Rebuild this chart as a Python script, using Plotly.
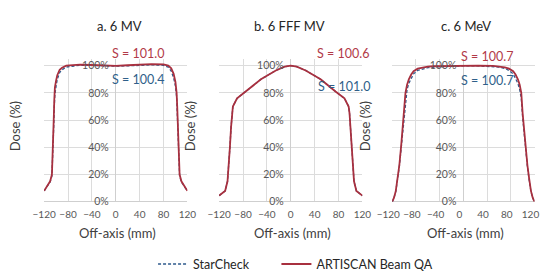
import plotly.graph_objects as go

W, H = 549, 279

# ---------------- data ----------------
panel_titles = ["a. 6 MV", "b. 6 FFF MV", "c. 6 MeV"]
series_names = ["StarCheck", "ARTISCAN Beam QA"]

# a. 6 MV
a_x_red = [-120, -115, -110, -107, -105, -104, -103, -102, -100, -98, -94, -90, -83, -60, -40, -20, 0, 20, 40, 60, 80, 88, 93, 97, 100, 102, 103, 104, 105, 107, 110, 115, 120]
a_y_red = [8, 11.5, 15, 20, 40, 60, 75, 84, 89, 93, 97, 98.5, 100, 100.8, 100.5, 100, 99.8, 100.3, 100.8, 101.2, 101, 100, 98, 94, 88, 80, 70, 55, 40, 20, 15, 11, 8]
a_x_blue = [-120, -115, -110, -107, -105, -104, -103, -102, -100, -98, -94, -90, -83, -60, -40, -20, 0, 20, 40, 60, 80, 88, 93, 97, 100, 102, 103, 104, 105, 107, 110, 115, 120]
a_y_blue = [8, 11, 14.5, 19, 36, 55, 70, 79, 85, 90, 95, 97, 99, 100.3, 100.2, 99.8, 99.6, 99.9, 100.3, 100.6, 100.3, 99, 96, 91, 85, 77, 66, 52, 38, 19, 14.5, 11, 8]

# b. 6 FFF MV
b_x_red = [-120, -115, -110, -106, -104, -102, -100, -98.5, -97, -90, -75, -50, -25, -10, 0, 10, 25, 50, 75, 90, 97, 98.5, 100, 102, 104, 106, 110, 115, 120]
b_y_red = [4.5, 6, 8, 15, 25, 40, 55, 65, 70, 76, 81, 90, 96.5, 99.3, 100, 99.3, 96.5, 90, 81, 76, 70, 65, 55, 40, 25, 15, 8, 6, 4.5]
b_x_blue = b_x_red
b_y_blue = [4.5, 6, 8, 15, 25, 40, 55, 65, 70, 76, 81, 90, 96.5, 99.3, 100, 99.3, 96.5, 90, 81, 76, 70, 65, 55, 40, 25, 15, 8, 6, 4.5]

# c. 6 MeV
c_x_red = [-120, -117, -114, -111, -108, -105, -102, -100, -97.7, -95, -92, -88, -84, -77, -70, -60, -50, -25, 0, 25, 50, 60, 70, 77, 84, 88, 92, 95, 97.7, 100, 102, 105, 108, 111, 114, 117, 120]
c_y_red = [0, 3, 8, 17, 27, 41, 55, 65, 80, 86, 90, 93.5, 96, 97.8, 98.6, 99.3, 99.6, 99.9, 100, 100, 99.8, 99.5, 98.8, 97.8, 96, 93.5, 90, 86, 80, 65, 55, 41, 27, 17, 8, 3, 0]
c_x_blue = c_x_red
c_y_blue = [0, 3, 7.5, 16, 26, 39, 52, 62, 76, 82.5, 87, 91, 94, 96.5, 97.5, 98.5, 99, 99.5, 99.8, 99.8, 99.5, 99, 98, 96.5, 94, 91, 87, 82.5, 76, 62, 52, 39, 26, 16, 7.5, 3, 0]

s_red = ["S = 101.0", "S = 100.6", "S = 100.7"]
s_blue = ["S = 100.4", "S = 101.0", "S = 100.7"]

x_ticks = [-120, -80, -40, 0, 40, 80, 120]
y_ticks = [0, 20, 40, 60, 80, 100]
y_tick_text = ["0%", "20%", "40%", "60%", "80%", "100%"]

# ---------------- styling ----------------
FONT = "Lato, 'Open Sans', sans-serif"
RED = "#A8303F"
BLUE = "#2E5A8C"
RED_TXT = "#B23A48"
BLUE_TXT = "#2F5F8A"
GRID = "#DCDCDC"
TICK = "#595959"


def px(x):
    return x / W


def py(y):
    return 1 - y / H


panels_px = [(22, 172), (205, 355), (386, 535)]
top_px, bot_px = 52, 198
title_cx = [101, 279, 463]
s_red_pos = [(120, 47), (335, 47), (485, 50)]
s_blue_pos = [(120, 73), (336, 80), (485, 74)]
dose_x = [3, 186, 368]
label_shift = [0, 0, -4]

data = [
    (a_x_blue, a_y_blue, a_x_red, a_y_red),
    (b_x_blue, b_y_blue, b_x_red, b_y_red),
    (c_x_blue, c_y_blue, c_x_red, c_y_red),
]

fig = go.Figure()
annotations = []
layout = {}

for i, (xb, yb, xr, yr) in enumerate(data):
    sfx = "" if i == 0 else str(i + 1)
    xa, ya = "x" + sfx, "y" + sfx
    fig.add_trace(go.Scatter(x=xb, y=yb, xaxis=xa, yaxis=ya, mode="lines",
                             name=series_names[0], legendgroup="s", legend="legend",
                             showlegend=(i == 0),
                             line=dict(color=BLUE, width=1.3, dash="3px,2px")))
    fig.add_trace(go.Scatter(x=xr, y=yr, xaxis=xa, yaxis=ya, mode="lines",
                             name=series_names[1], legendgroup="a", legend="legend2",
                             showlegend=(i == 0),
                             line=dict(color=RED, width=1.8)))
    l, r = panels_px[i]
    dom = [px(l), px(r)]
    layout["xaxis" + sfx] = dict(
        domain=dom, range=[-120.2, 120.2], tickvals=x_ticks, anchor=ya,
        showgrid=True, gridcolor=GRID, gridwidth=1, tickangle=0,
        zeroline=True, zerolinecolor="#CFCFCF", zerolinewidth=1,
        showline=False, ticks="", ticklabelstandoff=5, ticklabeloverflow="allow",
        ticklabelshift=label_shift[i],
        tickfont=dict(family=FONT, size=10, color=TICK),
    )
    layout["yaxis" + sfx] = dict(
        domain=[py(bot_px), py(top_px)], range=[0, 105],
        tickvals=y_ticks, ticktext=y_tick_text,
        anchor="free", position=(dom[0] + dom[1]) / 2,
        showgrid=True, gridcolor=GRID, gridwidth=1,
        zeroline=True, zerolinecolor="#CFCFCF", zerolinewidth=1,
        showline=False, ticks="", ticklabelstandoff=7,
        tickfont=dict(family=FONT, size=10.5, color=TICK),
    )
    annotations.append(dict(text=panel_titles[i], x=px(title_cx[i]), y=py(18),
                            xref="paper", yref="paper", showarrow=False,
                            xanchor="center", yanchor="middle",
                            font=dict(family=FONT, size=13, color="#262626")))
    annotations.append(dict(text="Off-axis (mm)", x=px((l + r) / 2 + 2), y=py(230),
                            xref="paper", yref="paper", showarrow=False,
                            xanchor="center", yanchor="middle",
                            font=dict(family=FONT, size=13, color="#404040")))
    annotations.append(dict(text="Dose (%)", x=px(dose_x[i]), y=py(121), textangle=-90,
                            xref="paper", yref="paper", showarrow=False,
                            xanchor="right", yanchor="middle",
                            font=dict(family=FONT, size=13, color="#404040")))
    annotations.append(dict(text=s_red[i], x=px(s_red_pos[i][0]), y=py(s_red_pos[i][1]),
                            xref="paper", yref="paper", showarrow=False,
                            xanchor="center", yanchor="middle",
                            font=dict(family=FONT, size=12.5, color=RED_TXT)))
    annotations.append(dict(text=s_blue[i], x=px(s_blue_pos[i][0]), y=py(s_blue_pos[i][1]),
                            xref="paper", yref="paper", showarrow=False,
                            xanchor="center", yanchor="middle",
                            font=dict(family=FONT, size=12.5, color=BLUE_TXT)))

leg_common = dict(orientation="h", xanchor="left", yanchor="middle", itemwidth=30,
                  font=dict(family=FONT, size=12.5, color="#262626"),
                  bgcolor="rgba(0,0,0,0)", borderwidth=0)

fig.update_layout(
    width=W, height=H,
    margin=dict(l=0, r=0, t=0, b=0),
    paper_bgcolor="white", plot_bgcolor="white",
    showlegend=True,
    legend=dict(x=px(136), y=py(262), **leg_common),
    legend2=dict(x=px(265), y=py(262), **leg_common),
    annotations=annotations,
    **layout,
)

fig.write_html("out.html")
